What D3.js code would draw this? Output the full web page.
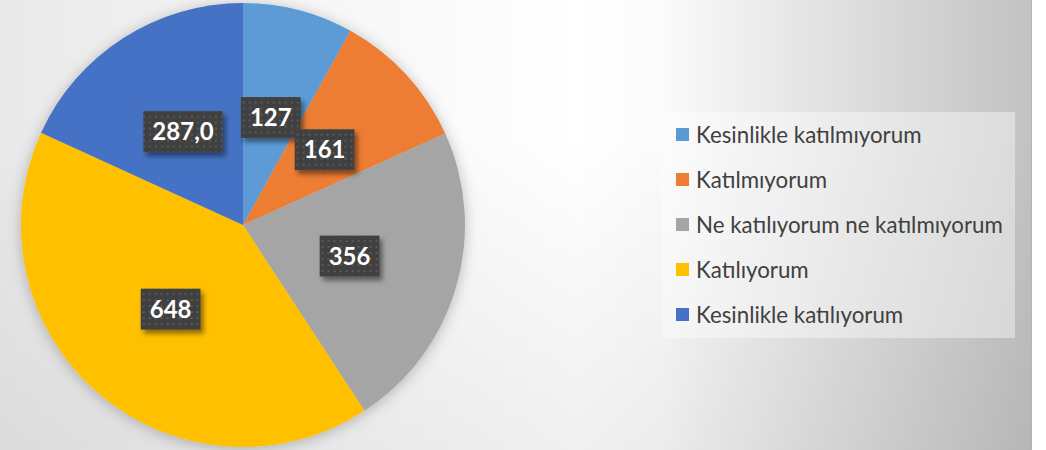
<!DOCTYPE html>
<html>
<head>
<meta charset="utf-8">
<script src="https://cdn.jsdelivr.net/npm/d3@7"></script>
<style>
  html, body { margin: 0; padding: 0; background: #ffffff; }
  svg { display: block; }
</style>
</head>
<body>
<script>
const categories = [
  "Kesinlikle katılmıyorum",
  "Katılmıyorum",
  "Ne katılıyorum ne katılmıyorum",
  "Katılıyorum",
  "Kesinlikle katılıyorum"
];
const values = [127, 161, 356, 648, 287];
const valueLabels = ["127", "161", "356", "648", "287,0"];
const colors = ["#5B9BD5", "#ED7D31", "#A5A5A5", "#FFC000", "#4472C4"];

const width = 1046;
const height = 450;
const cx = 243, cy = 225, radius = 222;

const svg = d3.select("body")
  .append("svg")
  .attr("width", width)
  .attr("height", height);

const defs = svg.append("defs");

// chart area background
const bg = defs.append("linearGradient")
  .attr("id", "bgGrad")
  .attr("gradientUnits", "userSpaceOnUse")
  .attr("x1", 0).attr("y1", 0)
  .attr("x2", 1032).attr("y2", 0);
bg.append("stop").attr("offset", 0).attr("stop-color", "#e9e9e9");
bg.append("stop").attr("offset", 0.3).attr("stop-color", "#f6f6f6");
bg.append("stop").attr("offset", 0.56).attr("stop-color", "#ffffff");
bg.append("stop").attr("offset", 0.64).attr("stop-color", "#fbfbfb");
bg.append("stop").attr("offset", 1).attr("stop-color", "#c2c2c2");

const vshade = defs.append("linearGradient")
  .attr("id", "vShade")
  .attr("x1", 0).attr("y1", 0)
  .attr("x2", 0).attr("y2", 1);
vshade.append("stop").attr("offset", 0).attr("stop-color", "#000").attr("stop-opacity", 0);
vshade.append("stop").attr("offset", 0.3).attr("stop-color", "#000").attr("stop-opacity", 0);
vshade.append("stop").attr("offset", 1).attr("stop-color", "#000").attr("stop-opacity", 0.06);

svg.append("rect")
  .attr("width", 1032).attr("height", height)
  .attr("fill", "url(#bgGrad)");
svg.append("rect")
  .attr("width", 1032).attr("height", height)
  .attr("fill", "url(#vShade)");
svg.append("line")
  .attr("x1", 1031.5).attr("x2", 1031.5)
  .attr("y1", 0).attr("y2", height)
  .attr("stroke", "#b4b4b4").attr("stroke-width", 1);

// filters
const pieShadow = defs.append("filter")
  .attr("id", "pieShadow")
  .attr("x", "-20%").attr("y", "-20%")
  .attr("width", "140%").attr("height", "140%");
pieShadow.append("feDropShadow")
  .attr("dx", 0).attr("dy", 2)
  .attr("stdDeviation", 7)
  .attr("flood-color", "#000")
  .attr("flood-opacity", 0.25);

const labelShadow = defs.append("filter")
  .attr("id", "labelShadow")
  .attr("x", "-30%").attr("y", "-30%")
  .attr("width", "160%").attr("height", "160%");
labelShadow.append("feDropShadow")
  .attr("dx", 3).attr("dy", 4)
  .attr("stdDeviation", 2.5)
  .attr("flood-color", "#000")
  .attr("flood-opacity", 0.45);

const dots = defs.append("pattern")
  .attr("id", "dots")
  .attr("patternUnits", "userSpaceOnUse")
  .attr("width", 6).attr("height", 6);
dots.append("rect").attr("width", 6).attr("height", 6).attr("fill", "#404040");
dots.append("rect").attr("x", 2).attr("y", 2).attr("width", 2).attr("height", 2).attr("fill", "#585858");

// pie
const pie = d3.pie().sort(null).value(d => d)(values);
const arc = d3.arc().innerRadius(0).outerRadius(radius);

const pieGroup = svg.append("g")
  .attr("transform", `translate(${cx}, ${cy})`);

pieGroup.append("g")
  .attr("filter", "url(#pieShadow)")
  .selectAll("path")
  .data(pie)
  .join("path")
  .attr("d", arc)
  .attr("fill", (d, i) => colors[i]);

// data labels
const labels = pieGroup.append("g")
  .selectAll("g")
  .data(pie)
  .join("g")
  .attr("transform", d => `translate(${arc.centroid(d)})`);

labels.each(function (d, i) {
  const g = d3.select(this);
  const box = g.append("rect").attr("filter", "url(#labelShadow)");
  const t = g.append("text")
    .attr("text-anchor", "middle")
    .attr("dy", "0.36em")
    .attr("fill", "#ffffff")
    .style("font-family", "Lato, 'Open Sans', sans-serif")
    .style("font-weight", "bold")
    .style("font-size", "24px")
    .text(valueLabels[i]);
  const w = t.node().getComputedTextLength() + 18;
  const h = 41;
  box.attr("x", -w / 2).attr("y", -h / 2)
    .attr("width", w).attr("height", h)
    .attr("fill", "url(#dots)");
});

// legend
const legend = svg.append("g");
legend.append("rect")
  .attr("x", 662).attr("y", 112)
  .attr("width", 353).attr("height", 226)
  .attr("fill", "#ffffff")
  .attr("fill-opacity", 0.4);

const legendY = d3.scalePoint()
  .domain(categories)
  .range([135, 315]);

const items = legend.selectAll("g.item")
  .data(categories)
  .join("g")
  .attr("class", "item")
  .attr("transform", d => `translate(676, ${legendY(d)})`);

items.append("rect")
  .attr("x", 0).attr("y", -7)
  .attr("width", 13).attr("height", 13)
  .attr("fill", (d, i) => colors[i]);

items.append("text")
  .attr("x", 20)
  .attr("dy", "0.35em")
  .attr("fill", "#404040")
  .style("font-family", "Lato, 'Open Sans', sans-serif")
  .style("font-size", "22.3px")
  .text(d => d);
</script>
</body>
</html>
